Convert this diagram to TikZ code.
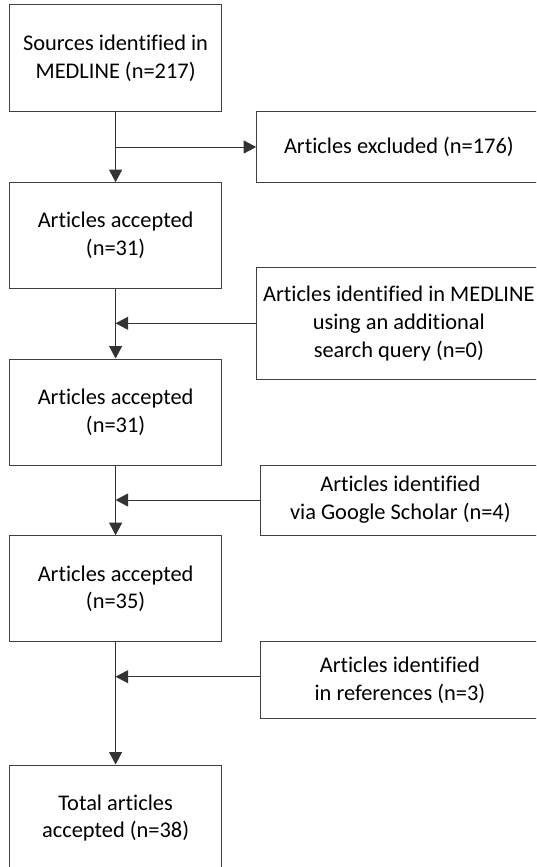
\documentclass[tikz,border=0pt]{standalone}
\usepackage{fontspec}
\setmainfont{Carlito}[RawFeature={-liga;-clig;-calt;-dlig}]
\usetikzlibrary{arrows.meta,calc}
\tikzset{
  box/.style={draw=black!75, line width=1pt, align=center, inner sep=0pt,
    font=\fontsize{22.4}{27.8}\selectfont, text=black},
  leftbox/.style={box, minimum width=212.2pt, minimum height=106pt},
  conn/.style={draw=black!80, line width=1pt},
  arr/.style={conn, -{Triangle[length=12.5pt,width=13pt]}}
}
\begin{document}
\begin{tikzpicture}[x=1pt,y=-1pt]
\useasboundingbox (0,0) rectangle (536,867);
\clip (0,0) rectangle (536,867);
% main column
\node[leftbox, minimum height=106.7pt] (b1) at (115.6,58.3) {Sources identified in\\MEDLINE (n=217)};
\node[leftbox, minimum height=105.6pt] (b2) at (115.6,235.5) {Articles accepted\\(n=31)};
\node[leftbox] (b3) at (115.6,412) {Articles accepted\\(n=31)};
\node[leftbox] (b4) at (115.6,588.7) {Articles accepted\\(n=35)};
\node[leftbox] (b5) at (115.6,818) {Total articles\\accepted (n=38)};
% right column
\node[box, minimum width=284.3pt, minimum height=70.6pt] (ex) at (398.85,147) {Articles excluded (n=176)};
\node[box, minimum width=284.3pt, minimum height=112pt] (md) at (398.85,323.3) {Articles identified in MEDLINE\\using an additional\\search query (n=0)};
\node[box, minimum width=279.3pt, minimum height=70pt] (gs) at (400.35,500) {Articles identified\\via Google Scholar (n=4)};
\node[box, minimum width=278.3pt, minimum height=77pt] (rf) at (399.85,680.2) {Articles identified\\in references (n=3)};
% junctions on the main line
\coordinate (j1) at (b1.south |- ex.west);
\coordinate (j2) at (b2.south |- md.west);
\coordinate (j3) at (b3.south |- gs.west);
\coordinate (j4) at ($(b4.south |- rf.west)+(0,-3.5)$);
\coordinate (r4) at ($(rf.west)+(0,-3.5)$);
% connectors
\draw[arr] (b1.south) -- (b2.north);
\draw[arr] (j1) -- (ex.west);
\draw[arr] (b2.south) -- (b3.north);
\draw[arr] (md.west) -- (j2);
\draw[arr] (b3.south) -- (b4.north);
\draw[arr] (gs.west) -- (j3);
\draw[arr] (b4.south) -- (b5.north);
\draw[arr] (r4) -- (j4);
\end{tikzpicture}
\end{document}
